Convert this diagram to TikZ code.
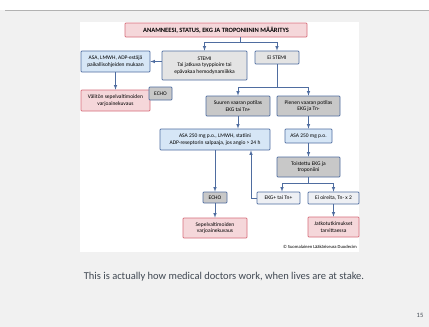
\documentclass[tikz,border=0pt]{standalone}
\usepackage{fontspec}
\setmainfont{Carlito}
\definecolor{flowblue}{RGB}{79,109,160}
\definecolor{lightgrey}{RGB}{228,228,228}
\definecolor{darkgrey}{RGB}{200,200,200}
\definecolor{paleblue}{RGB}{214,230,246}
\definecolor{palered}{RGB}{245,215,218}
\definecolor{redline}{RGB}{214,110,122}
\definecolor{paleface}{RGB}{238,240,244}
\definecolor{slidegrey}{RGB}{241,241,241}
\definecolor{captiongrey}{RGB}{64,72,82}
\begin{document}
\begin{tikzpicture}[
    x=1pt, y=-1pt,
    every node/.style={font=\fontsize{5.5}{6.6}\selectfont, align=center, inner sep=1pt},
    box/.style={draw=flowblue, line width=0.7pt, rounded corners=0.8pt},
    greybox/.style={box, fill=lightgrey},
    darkbox/.style={box, fill=darkgrey},
    bluebox/.style={box, fill=paleblue},
    whitebox/.style={box, fill=paleface},
    redbox/.style={box, draw=redline, fill=palered},
    flowline/.style={draw=flowblue, line width=0.6pt},
    flowarrow/.style={flowline, ->, >=latex}
  ]
  \useasboundingbox (0,0) rectangle (429,327);
  % slide
  \fill[slidegrey] (0,10) rectangle (429,327);
  \draw[gray!60, line width=0.6pt] (5,10) -- (429,10);
  \fill[white] (80,22) rectangle (359,252);

  % boxes
  \node[redbox, minimum width=182pt, minimum height=14pt,
        font=\bfseries\fontsize{6.5}{7.5}\selectfont] (title) at (216,30)
    {ANAMNEESI, STATUS, EKG JA TROPONIININ MÄÄRITYS};
  \node[greybox, minimum width=85pt, minimum height=29pt] (stemi) at (204.5,65.5)
    {STEMI\\Tai jatkuva tyyppioire tai\\epävakaa hemodynamiikka};
  \node[greybox, minimum width=44pt, minimum height=13pt] (eistemi) at (277,57.5) {Ei STEMI};
  \node[bluebox, minimum width=69pt, minimum height=21pt] (asa) at (115.5,61.5)
    {ASA, LMWH, ADP-estäjä\\paikallisohjeiden mukaan};
  \node[redbox, minimum width=69pt, minimum height=21pt] (valiton) at (115.5,100.5)
    {Välitön sepelvaltimoiden\\varjoainekuvaus};
  \node[darkbox, minimum width=23pt, minimum height=13pt] (echoa) at (160.5,93.5) {ECHO};
  \node[darkbox, minimum width=64pt, minimum height=20pt] (suuren) at (238,106)
    {Suuren vaaran potilas\\EKG tai Tn+};
  \node[darkbox, minimum width=63pt, minimum height=20pt] (pienen) at (308.5,106)
    {Pienen vaaran potilas\\EKG ja Tn-};
  \node[bluebox, minimum width=110pt, minimum height=21pt] (asabig) at (215,139.5)
    {ASA 250 mg p.o., LMWH, statiini\\ADP-reseptorin salpaaja, jos angio > 24 h};
  \node[bluebox, minimum width=47pt, minimum height=14pt] (asasmall) at (308.5,136)
    {ASA 250 mg p.o.};
  \node[darkbox, minimum width=63pt, minimum height=20pt] (toistettu) at (308.5,167)
    {Toistettu EKG ja\\troponiini};
  \node[whitebox, minimum width=43pt, minimum height=12pt] (ekgplus) at (278.5,198) {EKG+ tai Tn+};
  \node[whitebox, minimum width=51pt, minimum height=12pt] (eioireita) at (333.5,198) {Ei oireita, Tn- x 2};
  \node[redbox, minimum width=51pt, minimum height=20pt] (jatko) at (333.5,227)
    {Jatkotutkimukset\\tarvittaessa};
  \node[darkbox, minimum width=24pt, minimum height=11pt] (echob) at (215,197.5) {ECHO};
  \node[redbox, minimum width=64pt, minimum height=20pt] (sepel) at (215,228)
    {Sepelvaltimoiden\\varjoainekuvaus};

  % connectors
  \coordinate (j1) at (240,42);
  \coordinate (j2) at (277,87);
  \coordinate (j3) at (308.5,183);
  \draw[flowline] (title.south -| j1) -- (j1);
  \draw[flowarrow] (j1) -| (stemi.north);
  \draw[flowarrow] (j1) -| (eistemi.north);
  \draw[flowarrow] (stemi.west |- asa.east) -- (asa.east);
  \draw[flowarrow] (asa.south) -- (valiton.north);
  \draw[flowline] (eistemi.south) -- (j2);
  \draw[flowarrow] (j2) -| (suuren.north);
  \draw[flowarrow] (j2) -| (pienen.north);
  \draw[flowarrow] (suuren.south) -- (suuren.south |- asabig.north);
  \draw[flowarrow] (pienen.south) -- (asasmall.north);
  \draw[flowarrow] (asasmall.south) -- (toistettu.north);
  \draw[flowline] (toistettu.south) -- (j3);
  \draw[flowarrow] (j3) -| ([xshift=3.5pt]ekgplus.north);
  \draw[flowarrow] (j3) -| (eioireita.north);
  \draw[flowarrow] (eioireita.south) -- (jatko.north);
  \draw[flowarrow] (ekgplus.west) -| ([xshift=36pt]asabig.south);
  \draw[flowarrow] (asabig.south) -- (echob.north);
  \draw[flowarrow] (echob.south) -- (sepel.north);

  % texts
  \node[anchor=east, font=\fontsize{4.6}{5.5}\selectfont] (copy) at (358,247)
    {© Suomalainen Lääkäriseura Duodecim};
  \node[font=\fontsize{10.5}{12.5}\selectfont, text=captiongrey] (caption) at (224,277)
    {This is actually how medical doctors work, when lives are at stake.};
  \node[font=\fontsize{6.5}{7.5}\selectfont, text=captiongrey] (page) at (420,315) {15};
\end{tikzpicture}
\end{document}
